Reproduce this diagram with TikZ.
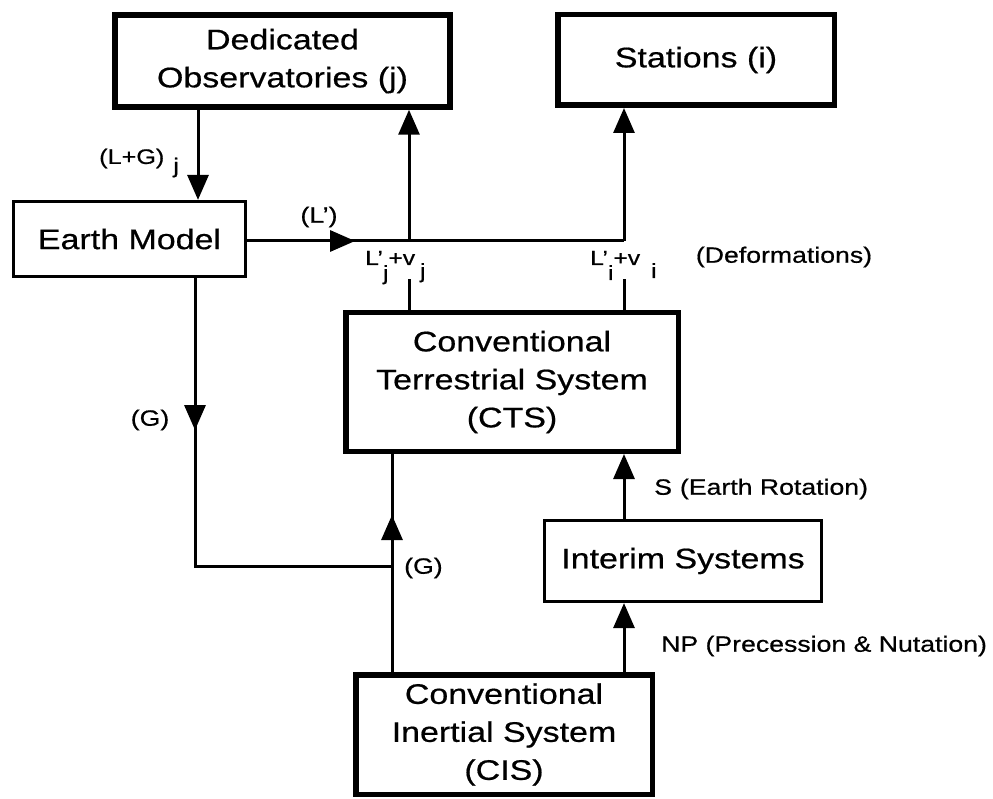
\documentclass[tikz,border=0pt]{standalone}
\usepackage{fontspec}
\setmainfont{Liberation Sans}[FakeStretch=1.2,FakeBold=0.6]
\usetikzlibrary{arrows.meta,decorations.markings}
\newcommand\bigf{\fontsize{28.3}{38}\selectfont}
\newcommand\labf{\fontsize{22.2}{26}\selectfont}
\newcommand\lgf{\fontsize{21}{24}\selectfont}
\newcommand\smallf{\fontsize{20.5}{24}\selectfont}
\begin{document}
\begin{tikzpicture}[x=1pt,y=-1pt,
  >={Triangle[length=25pt,width=21pt]},
  conn/.style={line width=3pt},
  midarr/.style={postaction={decorate,decoration={markings,mark=at position #1 with {\arrow{>}}}}},
  thickbox/.style={draw,line width=5.5pt,inner sep=0pt,align=center,font=\bigf},
  thinbox/.style={draw,line width=3.2pt,inner sep=0pt,align=center,font=\bigf},
  lab/.style={inner sep=0pt,font=\labf},
  smalllab/.style={inner sep=0pt,font=\smallf}]
\useasboundingbox (0,0) rectangle (993,799);
% boxes
\node[thickbox,minimum width=335pt,minimum height=92pt] (ded) at (282.5,61) {Dedicated\\Observatories (j)};
\node[thickbox,minimum width=276.5pt,minimum height=90.5pt] (sta) at (696,60) {Stations (i)};
\node[thinbox,minimum width=232pt,minimum height=75pt] (earth) at (129.5,239) {Earth Model};
\node[thickbox,minimum width=332.5pt,minimum height=138.5pt] (cts) at (512,382) {Conventional\\Terrestrial System\\(CTS)};
\node[thinbox,minimum width=277pt,minimum height=81pt] (interim) at (683,561) {Interim Systems};
\node[thickbox,minimum width=296.5pt,minimum height=119.5pt] (cis) at (504,734.5) {Conventional\\Inertial System\\(CIS)};
% helper coordinates
\coordinate (xa) at (198,0);
\coordinate (xj) at (409,0);
\coordinate (xi) at (624,0);
\coordinate (xg) at (195,0);
\coordinate (xc) at (392,0);
\coordinate (jg) at (392,566);
\coordinate (hl) at (0,241);
\coordinate (lj) at (409,279);
\coordinate (li) at (624,279);
% connectors
\draw[conn,->] (ded.south -| xa) -- (earth.north -| xa);
\draw[conn,midarr=108pt] (earth.east |- hl) -- (hl -| xi);
\draw[conn,->] (hl -| xi) -- (sta.south -| xi);
\draw[conn,->] (hl -| xj) -- (ded.south -| xj);
\draw[conn] (cts.north -| xj) -- (lj);
\draw[conn] (cts.north -| xi) -- (li);
\draw[conn,midarr=152pt] (earth.south -| xg) -- (xg |- jg) -- (jg);
\draw[conn,midarr=157pt] (cis.north -| xc) -- (cts.south -| xc);
\draw[conn,->] (interim.north -| xi) -- (cts.south -| xi);
\draw[conn,->] (cis.north -| xi) -- (interim.south -| xi);
% labels
\node[lab,anchor=west,font=\lgf] (llg) at (99,163) {(L+G)\hspace{9pt}\raisebox{-9pt}{j}};
\node[lab] (llp) at (319,217) {(L')};
\node[lab] (ldef) at (784,257) {(Deformations)};
\node[lab] (lg1) at (150,420) {(G)};
\node[lab,anchor=west] (lg2) at (404,568) {(G)};
\node[lab,anchor=west] (ls) at (654,489) {S\hspace{8pt}(Earth Rotation)};
\node[lab,anchor=west] (lnp) at (661,646) {NP (Precession \& Nutation)};
\node[smalllab,anchor=base west] (llj) at (365,265) {L'\raisebox{-15pt}{j}+v\hspace{5pt}\raisebox{-13pt}{j}};
\node[smalllab,anchor=base west] (lli) at (590,265) {L'\raisebox{-15pt}{i}+v\hspace{11pt}\raisebox{-13pt}{i}};
\end{tikzpicture}
\end{document}
